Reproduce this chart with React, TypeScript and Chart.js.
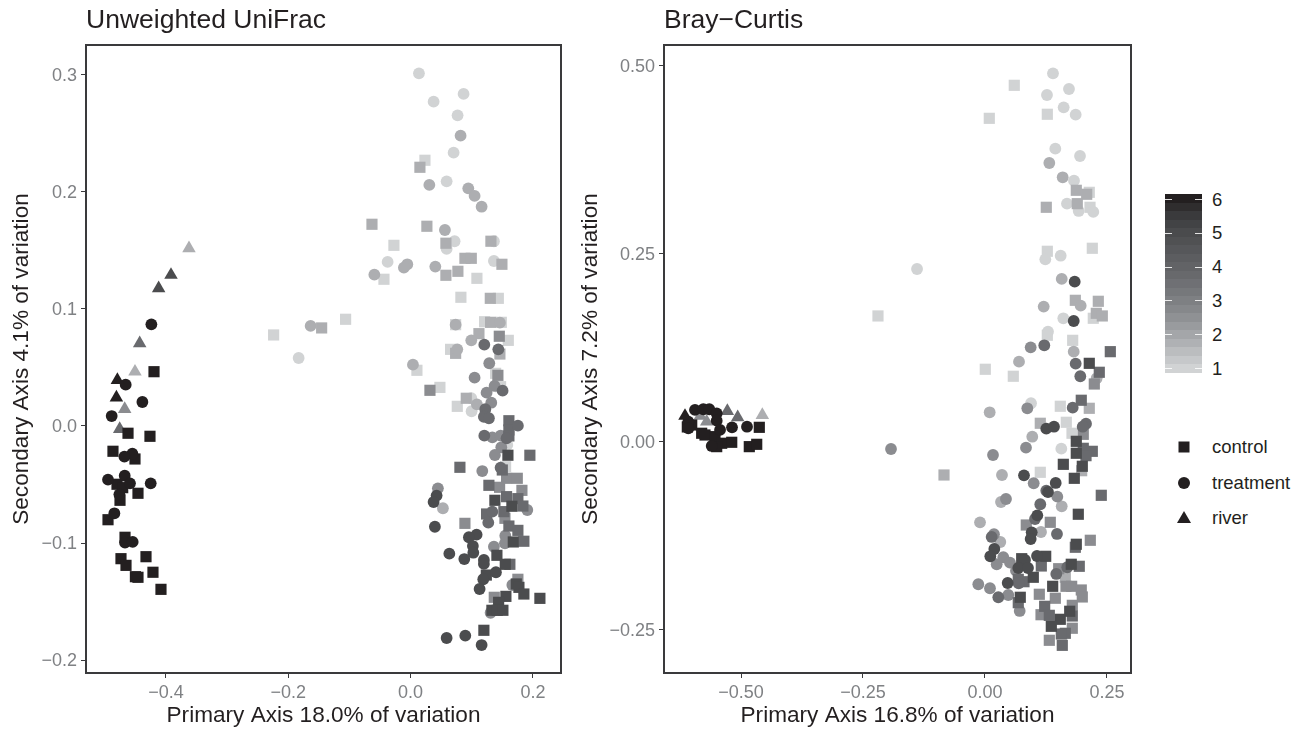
import React, { useEffect, useRef } from "react";
import { Chart, registerables } from "chart.js";

Chart.register(...registerables);

type P = [number, number, number];

const levelGreys = ["#d1d3d4", "#adaeb1", "#8b8c90", "#696a6e", "#4b4c4e", "#231f20"];
const barSteps = ["#231f20", "#2f2d2e", "#3a3a3c", "#424345", "#4a4b4d", "#505153", "#56575a", "#5c5d60", "#626366", "#68696c", "#6f7074", "#76787b", "#7e8083", "#86888b", "#8f9194", "#999b9e", "#a4a6a9", "#afb1b4", "#bbbdbf", "#c6c8ca", "#d1d3d4"];
const barTicks = [6, 5, 4, 3, 2, 1];

const uniControl: P[] = [
  [.0234,.2271,1],[.0152,.2211,2],[-.0632,.1724,2],[.0266,.1707,2],[.0577,.1562,2],[.1313,.1579,2],[-.0273,.1544,1],[.0888,.1433,2],[.0992,.1433,2],[.1493,.1382,2],
  [-.0436,.1254,1],[.0577,.1288,2],[.0773,.1322,2],[.1084,.1262,1],[.0822,.11,1],[.1303,.1091,2],[.1434,.1091,1],[.121,.0891,1],[-.1063,.0912,1],[.0736,.0866,1],
  [.1308,.0886,2],[.1483,.0886,1],[.1117,.0789,2],[.145,.0767,3],[.1597,.0732,1],[.0654,.0655,1],[-.224,.0778,1],[-.1455,.0838,2],[.146,.0615,2],[.0736,.0621,2],
  [.0103,.0476,1],[.139,.045,1],[.1427,.0433,3],[.1471,.0336,1],[.0316,.0305,3],[.0479,.033,1],[.091,.0237,2],[.0763,.0168,1],[.1607,.0045,4],[.1607,-.0034,4],
  [.1607,-.0085,4],[.1591,-.025,5],[.195,-.025,4],[.0806,-.0353,4],[.1553,-.0348,1],[.1499,-.0376,4],[.1569,-.0447,3],[.1744,-.0447,3],[.128,-.0507,4],[.1455,-.0524,3],
  [.182,-.055,3],[.1569,-.0604,4],[.1378,-.0635,5],[.1754,-.0621,4],[.1656,-.0686,5],[.1836,-.0684,4],[.1525,-.0732,4],[.1242,-.0752,4],[.1542,-.0789,3],[.0888,-.0832,3],
  [.1607,-.0855,4],[.1754,-.0892,4],[.1679,-.0991,5],[.1852,-.0985,4],[.1411,-.1105,5],[.1548,-.1182,5],[.1623,-.1182,4],[.1238,-.1274,5],[.1754,-.131,3],[.1728,-.135,5],
  [.1771,-.1379,5],[.1852,-.1436,5],[.2114,-.1473,5],[.1368,-.1464,3],[.1558,-.1456,5],[.1439,-.1507,5],[.1329,-.1575,5],[.1417,-.1575,5],[.1509,-.1575,5],[.1198,-.1746,5],
  [-.4196,.0464,6],[-.4621,-.0062,6],[-.4262,-.0088,6],[-.4867,-.0216,6],[-.4507,-.0282,6],[-.4801,-.0498,6],[-.4708,-.0527,6],[-.4458,-.0575,6],[-.4752,-.0635,6],[-.4948,-.0801,6],
  [-.467,-.0951,6],[-.4327,-.1117,6],[-.4736,-.1134,6],[-.4654,-.1191,6],[-.4213,-.125,6],[-.45,-.1288,6],[-.4458,-.1293,6],[-.4082,-.1396,6],
];

const uniTreatment: P[] = [
  [.0136,.3014,1],[.0376,.2772,1],[.0866,.2838,1],[.0768,.2655,1],[.0817,.2481,2],[.0703,.2336,1],[.0306,.206,2],[.0589,.2091,1],[.0943,.2031,2],[.1046,.1966,2],
  [.1161,.1874,2],[.0561,.1675,2],[.0719,.1579,1],[.0589,.1513,1],[.1362,.1579,1],[-.0376,.1402,1],[-.0054,.1382,2],[-.011,.1353,2],[.0404,.1362,2],[.1362,.141,1],
  [-.0593,.1293,2],[.0736,.0866,2],[.146,.0883,2],[.0992,.0732,2],[.1205,.0695,4],[.1434,.0655,4],[.0763,.0655,2],[-.1635,.0855,2],[-.1831,.0581,1],[.0038,.0524,2],
  [.1286,.0536,3],[.1046,.0413,3],[.1373,.0342,3],[.1504,.0302,4],[.1242,.0285,3],[.0992,.0237,1],[.0997,.0126,1],[.1084,.0185,2],[.1319,.0199,3],[.1221,.0143,4],
  [.1198,.0079,4],[.128,.0066,4],[.1754,.0003,4],[.1205,-.0083,4],[.1336,-.0097,3],[.1471,-.0083,3],[.1569,-.0105,4],[.1581,-.0162,1],[.1483,-.0182,3],[.1378,-.0248,3],
  [.1172,-.0385,3],[.1471,-.0356,4],[.0446,-.0533,3],[.0425,-.0595,5],[.0376,-.065,5],[.0528,-.0703,2],[.1908,-.0718,3],[.1336,-.0732,4],[.127,-.0826,4],[.0397,-.0861,5],
  [.1548,-.0938,3],[.1542,-.1003,3],[.1079,-.0929,5],[.0953,-.0951,5],[.1018,-.1026,5],[.1362,-.1032,3],[.1025,-.1083,5],[.0633,-.1091,5],[.0878,-.1137,5],[.1198,-.1145,5],
  [.1198,-.1179,5],[.1395,-.125,5],[.1188,-.131,5],[.1128,-.1393,5],[.1663,-.1359,3],[.1308,-.1596,3],[.0589,-.1812,5],[.0894,-.1792,5],[.1161,-.1872,5],
  [-.4239,.0869,6],[-.4659,.0353,6],[-.4386,.0205,6],[-.4888,.0085,6],[-.455,-.0237,6],[-.468,-.0262,6],[-.4675,-.0425,6],[-.4948,-.0459,6],[-.4589,-.049,6],[-.425,-.049,6],
  [-.4762,-.0584,6],[-.4844,-.0746,6],[-.467,-.0997,6],[-.4545,-.0991,6],
];

const uniRiver: P[] = [
  [-.3624,.1519,2],[-.3918,.1291,5],[-.412,.1177,5],[-.443,.0707,4],[-.4507,.0464,2],[-.4795,.0393,6],[-.4811,.0242,6],[-.4675,.0145,3],[-.4757,-.0026,4],
];

const bcControl: P[] = [
  [.06,.4743,1],[.1277,.4358,1],[.0088,.4304,1],[.2137,.332,1],[.1871,.3347,2],[.2084,.3294,2],[.1891,.3169,2],[.2152,.3121,1],[.1256,.3121,2],[.2199,.2576,1],
  [.1277,.2536,1],[.1851,.1884,2],[.2322,.1871,2],[.2281,.1711,2],[.2404,.1676,2],[.2219,.1645,1],[.1277,.1419,1],[.1797,.1352,1],[.2568,.1201,4],[.0006,.0967,1],
  [.058,.0874,1],[.2137,.1046,5],[.2342,.0927,4],[.224,.0771,3],[.1543,.0475,1],[.1973,.0555,4],[.2137,.0448,2],[.1133,.0249,2],[.1666,.0262,1],[.1783,.0116,1],
  [.2014,.0102,3],[.1871,.0009,5],[.1871,-.015,5],[.2014,-.0084,4],[.2199,-.0124,4],[.207,-.0182,4],[.1605,-.0297,5],[.1994,-.0323,5],[.1981,-.0382,2],[.1133,-.0403,1],
  [.183,-.0483,5],[.2383,-.0709,4],[.1912,-.0961,5],[.0846,-.1104,3],[.1338,-.1068,3],[.2158,-.1307,3],[.1851,-.14,4],[.1871,-.136,5],[.0752,-.1552,5],[.1244,-.152,5],
  [.1154,-.1649,4],[.099,-.1799,5],[.0682,-.1826,4],[.0799,-.1858,4],[.151,-.1685,3],[.1646,-.1799,2],[.1768,-.1626,5],[.1932,-.1653,4],[.1387,-.1919,5],[.166,-.1919,3],
  [.1776,-.1919,3],[.1973,-.1968,3],[.1994,-.2061,3],[.0723,-.2065,5],[.0682,-.2137,4],[.1113,-.2025,3],[.1441,-.2078,3],[.1223,-.2185,4],[.1148,-.2297,3],[.1318,-.2305,4],
  [.1789,-.2172,3],[.1736,-.2251,5],[.1789,-.2314,4],[.1543,-.2358,5],[.1359,-.2451,5],[.1789,-.2477,3],[.1646,-.2544,4],[.1564,-.2553,4],[.1318,-.2637,3],[.1584,-.2704,4],
  [-.2193,.1676,1],[-.084,-.0439,2],
  [-.61,.02,6],[-.601,.0226,6],[-.5806,.0116,6],[-.5738,.0093,6],[-.5533,.0071,6],[-.5396,-.0017,6],[-.519,-.0004,6],[-.5498,-.0062,6],[-.483,-.0062,6],[-.4678,-.0031,6],[-.4625,.0195,6],
];

const bcTreatment: P[] = [
  [.1393,.4902,1],[.1721,.4694,1],[.127,.4614,1],[.1612,.445,1],[.1858,.4353,1],[.1441,.39,1],[.1947,.3803,1],[.1318,.371,2],[.1592,.352,2],[.1824,.3475,1],
  [.168,.3169,1],[.192,.3072,1],[.2219,.3059,1],[.1551,.2477,1],[.1236,.2429,1],[.1572,.2168,2],[.1838,.2132,5],[.1961,.1813,2],[.1203,.1801,2],[.1605,.1645,1],
  [.1818,.1609,5],[.1291,.1467,1],[.0936,.1259,3],[.1215,.1286,4],[.1818,.1201,2],[.0697,.1068,2],[.1858,.1041,4],[.2288,.0847,2],[.1953,.0874,4],[.0943,.0515,1],
  [.0867,.0448,3],[.0096,.0395,2],[.1797,.0456,4],[.1256,.0177,5],[.1414,.0203,5],[.207,.0243,4],[.2002,.0203,4],[.0969,.007,2],[.084,-.0076,3],[.1564,-.0089,1],
  [.0164,-.0173,3],[.0348,-.0439,2],[.0799,-.0443,5],[.0998,-.0549,3],[.1449,-.0545,5],[.1256,-.0648,4],[.1291,-.0665,5],[.1482,-.0727,3],[.0328,-.0798,2],[.043,-.0758,3],
  [.1572,-.0855,2],[.1133,-.0828,4],[-.0102,-.1068,2],[.1025,-.1024,4],[.1072,-.0975,5],[.1148,-.1197,2],[.1475,-.1223,4],[.0957,-.1201,5],[.0936,-.129,5],[.0184,-.1227,3],
  [.0137,-.1263,4],[.0314,-.133,2],[.0191,-.1423,5],[.0109,-.152,5],[.0375,-.1533,3],[.0512,-.1605,3],[.024,-.1626,3],[.082,-.1569,5],[.1066,-.1516,5],[.0682,-.1676,5],
  [.0881,-.1676,5],[.0635,-.1711,3],[.069,-.1879,4],[.0465,-.1875,5],[.1461,-.1755,4],[.1686,-.1666,4],[-.0137,-.1892,3],[.0102,-.1945,3],[.0273,-.2065,4],[.0477,-.2035,3],
  [.0711,-.2247,3],[-.1393,.23,1],[-.1926,-.0093,3],
  [-.5943,.0426,6],[-.608,.027,6],[-.608,.0182,6],[-.5772,.0435,6],[-.565,.0435,6],[-.5498,.0381,6],[-.5498,.0283,6],[-.5184,.0195,6],[-.4877,.0203,6],[-.543,.016,6],[-.56,-.0053,6],
];

const bcRiver: P[] = [
  [-.6148,.0346,6],[-.5835,.0346,3],[-.5703,.027,3],[-.528,.0412,4],[-.5068,.0328,4],[-.4563,.0359,2],
];

const uniXTicks = [-0.4, -0.2, 0, 0.2];
const uniYTicks = [-0.2, -0.1, 0, 0.1, 0.2, 0.3];
const bcXTicks = [-0.5, -0.25, 0, 0.25];
const bcYTicks = [-0.25, 0, 0.25, 0.5];

const FONT = "'Liberation Sans', Arial, sans-serif";
const TEXT = "#231f20";
const TICK = "#7f8184";
const BORDER = "#3a3a3c";

const fmt = (v: number, d: number) => (v < 0 ? "\u2212" : "") + Math.abs(v).toFixed(d);

const frame = {
  id: "frame",
  afterDatasetsDraw(c: any) {
    const { ctx, chartArea: a } = c;
    ctx.save();
    ctx.strokeStyle = BORDER;
    ctx.lineWidth = 2;
    ctx.strokeRect(a.left, a.top, a.right - a.left, a.bottom - a.top);
    ctx.restore();
  },
};

function buildDatasets(control: P[], treatment: P[], river: P[]) {
  const shapes: [P[], string, number][] = [[control, "rect", 7.9], [treatment, "circle", 5.9], [river, "triangle", 7.8]];
  const out: any[] = [];
  for (let lvl = 1; lvl <= 6; lvl++) {
    shapes.forEach(([pts, style, radius]) => {
      const chosen = pts.filter((p) => p[2] === lvl);
      if (chosen.length)
        out.unshift({
          data: chosen.map((p) => ({ x: p[0], y: p[1] })),
          pointStyle: style,
          pointRadius: radius,
          pointHoverRadius: radius,
          pointBackgroundColor: levelGreys[lvl - 1],
          pointBorderWidth: 0,
          showLine: false,
        });
    });
  }
  return out;
}

interface PanelProps {
  left: number; width: number; plotLeft: number; plotRight: number;
  title: string; xTitle: string; yTitle: string;
  xMin: number; xMax: number; yMin: number; yMax: number;
  xTicks: number[]; yTicks: number[]; xDec: number; yDec: number;
  yTitlePad: number; control: P[]; treatment: P[]; river: P[];
}

function Panel(p: PanelProps) {
  const ref = useRef<HTMLCanvasElement>(null);
  useEffect(() => {
    const tickFont = { family: FONT, size: 18 };
    const titleFont = { family: FONT, size: 22.6 };
    const chart = new Chart(ref.current!, {
      type: "scatter",
      data: { datasets: buildDatasets(p.control, p.treatment, p.river) },
      plugins: [frame],
      options: {
        animation: false,
        responsive: false,
        layout: { padding: { left: 0, right: p.width - p.plotRight, top: 0, bottom: 0 } },
        plugins: {
          legend: { display: false },
          tooltip: { enabled: false },
          title: {
            display: true, text: p.title, align: "start", fullSize: false, color: TEXT,
            font: { family: FONT, size: 26.5, weight: "normal", lineHeight: 1.2 },
            padding: { top: 5, bottom: 8.2 },
          },
        },
        scales: {
          x: {
            type: "linear", min: p.xMin, max: p.xMax,
            afterBuildTicks: (s: any) => { s.ticks = p.xTicks.map((value) => ({ value })); },
            afterFit: (s: any) => { s.height = 56; },
            border: { display: false },
            grid: { drawOnChartArea: false, drawTicks: true, tickLength: 5, color: BORDER },
            ticks: { color: TICK, font: tickFont, padding: 4, maxRotation: 0, callback: (v: any) => fmt(+v, p.xDec) },
            title: { display: true, text: p.xTitle, color: TEXT, font: titleFont, padding: { top: 0, bottom: 0 } },
          },
          y: {
            type: "linear", min: p.yMin, max: p.yMax,
            afterBuildTicks: (s: any) => { s.ticks = p.yTicks.map((value) => ({ value })); },
            afterFit: (s: any) => { s.width = p.plotLeft; },
            border: { display: false },
            grid: { drawOnChartArea: false, drawTicks: true, tickLength: 5, color: BORDER },
            ticks: { color: TICK, font: tickFont, padding: 4, labelOffset: 1.5, callback: (v: any) => fmt(+v, p.yDec) },
            title: { display: true, text: p.yTitle, color: TEXT, font: titleFont, padding: { top: p.yTitlePad, bottom: 0 } },
          },
        },
      } as any,
    });
    return () => chart.destroy();
  }, []);
  return <canvas ref={ref} width={p.width} height={729} style={{ position: "absolute", left: p.left, top: 0, width: p.width, height: 729 }} />;
}

const legendKeys = [
  { label: "control", y: 447, shape: "square" },
  { label: "treatment", y: 483, shape: "circle" },
  { label: "river", y: 518, shape: "triangle" },
];

function KeyMark({ shape }: { shape: string }) {
  return (
    <svg width="16" height="16" style={{ position: "absolute", left: 1176, top: -8 }}>
      {shape === "square" && <rect x="2.5" y="2.5" width="11" height="11" fill="#231f20" />}
      {shape === "circle" && <circle cx="8" cy="8" r="6" fill="#231f20" />}
      {shape === "triangle" && <polygon points="8,1 15,13 1,13" fill="#231f20" />}
    </svg>
  );
}

export default function App() {
  const barTop = 194;
  const barH = 179 / barSteps.length;
  return (
    <div style={{ position: "fixed", left: 0, top: 0, width: 1303, height: 729, background: "#fff", overflow: "hidden", fontFamily: FONT }}>
      <Panel left={0} width={575} plotLeft={86} plotRight={561}
        title="Unweighted UniFrac" xTitle="Primary Axis 18.0% of variation" yTitle="Secondary Axis 4.1% of variation"
        xMin={-0.5308} xMax={0.2459} yMin={-0.2111} yMax={0.3256} xTicks={uniXTicks} yTicks={uniYTicks} xDec={1} yDec={1}
        yTitlePad={8} control={uniControl} treatment={uniTreatment} river={uniRiver} />
      <Panel left={575} width={575} plotLeft={89} plotRight={556}
        title={"Bray\u2212Curtis"} xTitle="Primary Axis 16.8% of variation" yTitle="Secondary Axis 7.2% of variation"
        xMin={-0.6578} xMax={0.2992} yMin={-0.3072} yMax={0.5279} xTicks={bcXTicks} yTicks={bcYTicks} xDec={2} yDec={2}
        yTitlePad={2} control={bcControl} treatment={bcTreatment} river={bcRiver} />
      {barSteps.map((c, i) => (
        <div key={i} style={{ position: "absolute", left: 1165, width: 37, top: barTop + i * barH, height: barH + 0.5, background: c }} />
      ))}
      {barTicks.map((t) => {
        const y = 368 - (t - 1) * 33.8;
        return (
          <React.Fragment key={t}>
            <div style={{ position: "absolute", left: 1165, width: 7, top: y, height: 1, background: "#fff", opacity: 0.85 }} />
            <div style={{ position: "absolute", left: 1195, width: 7, top: y, height: 1, background: "#fff", opacity: 0.85 }} />
            <div style={{ position: "absolute", left: 1212, top: y - 9.5, lineHeight: "20px", fontSize: 18.5, color: TEXT }}>{t}</div>
          </React.Fragment>
        );
      })}
      {legendKeys.map((k) => (
        <div key={k.label} style={{ position: "absolute", left: 0, top: k.y, width: 1303, height: 0 }}>
          <KeyMark shape={k.shape} />
          <div style={{ position: "absolute", left: 1212, top: -10, lineHeight: "20px", fontSize: 18.5, color: TEXT }}>{k.label}</div>
        </div>
      ))}
    </div>
  );
}
